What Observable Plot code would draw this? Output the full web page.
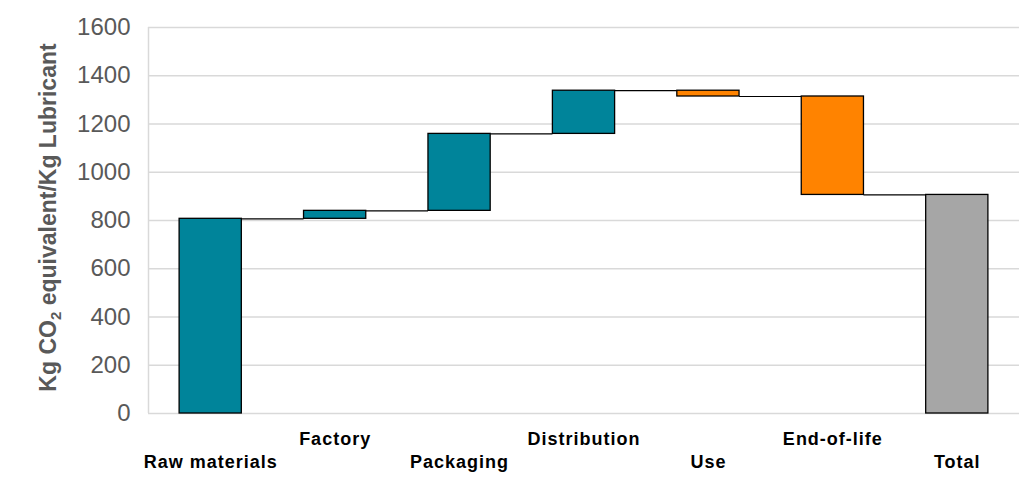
<!DOCTYPE html>
<html>
<head>
<meta charset="utf-8">
<script src="https://cdn.jsdelivr.net/npm/d3@7"></script>
<script src="https://cdn.jsdelivr.net/npm/@observablehq/plot@0.6"></script>
<style>
  html, body { margin: 0; padding: 0; background: #fff; }
  #chart svg { display: block; }
</style>
</head>
<body>
<div id="chart"></div>
<script>
// ---- Data ----
const categories = ["Raw materials", "Factory", "Packaging", "Distribution", "Use", "End-of-life", "Total"];
const values = [807, 33, 319, 179, -24, -408, 906];
const kinds = ["increase", "increase", "increase", "increase", "decrease", "decrease", "total"];
const yTicks = [0, 200, 400, 600, 800, 1000, 1200, 1400, 1600];
const yLabel = "Kg CO\u2082 equivalent/Kg Lubricant";

// ---- Build waterfall rows ----
let running = 0;
const rows = categories.map((c, i) => {
  let y1, y2;
  if (kinds[i] === "total") { y1 = 0; y2 = values[i]; running = values[i]; }
  else { y1 = running; y2 = running + values[i]; running = y2; }
  return { i, category: c, kind: kinds[i], y1, y2, end: y2 };
});
const links = rows.slice(0, -1).map(r => ({ i: r.i, level: r.end }));

const colors = { increase: "#00849A", decrease: "#FF8300", total: "#A6A6A6" };

const plot = Plot.plot({
  width: 1019,
  height: 497,
  marginLeft: 148,
  marginRight: 0,
  marginTop: 27,
  marginBottom: 84,
  style: { fontFamily: "'Liberation Sans', Arial, sans-serif", background: "#fff" },
  x: { type: "linear", domain: [-0.5, 6.5], axis: null },
  y: { domain: [0, 1600], axis: null },
  marks: [
    Plot.gridY(yTicks, { stroke: "#D9D9D9", strokeOpacity: 1, strokeWidth: 1.5 }),
    Plot.ruleX([-0.5], { stroke: "#D9D9D9", strokeWidth: 1.5 }),
    Plot.axisY({ ticks: yTicks, tickFormat: d => String(d), tickSize: 0, tickPadding: 18,
                 fontSize: 24, fill: "#595959", label: null }),
    Plot.axisX({ ticks: [1, 3, 5], tickFormat: i => categories[i], tickSize: 0, tickPadding: 19,
                 fontSize: 18, fontWeight: "bold", fill: "#000", label: null }),
    Plot.axisX({ ticks: [0, 2, 4, 6], tickFormat: i => categories[i], tickSize: 0, tickPadding: 42,
                 fontSize: 18, fontWeight: "bold", fill: "#000", label: null }),
    Plot.ruleY(links, { y: "level", x1: d => d.i + 0.25, x2: d => d.i + 0.75, stroke: "#000", strokeWidth: 1.2 }),
    Plot.rectY(rows, {
      x1: d => d.i - 0.25, x2: d => d.i + 0.25, y1: "y1", y2: "y2",
      fill: d => colors[d.kind], stroke: "#000", strokeWidth: 1.3
    }),
    Plot.text([yLabel], { frameAnchor: "left", dx: -100, dy: -3, rotate: -90, fontSize: 23, fontWeight: "bold",
                          fill: "#595959", textAnchor: "middle", lineAnchor: "middle" })
  ]
});

// letter spacing for the stretched category labels
plot.querySelectorAll("text").forEach(t => {
  if (categories.includes(t.textContent)) t.setAttribute("letter-spacing", "1");
});
// subscript for CO2
plot.querySelectorAll("text").forEach(t => {
  if (t.textContent === yLabel) {
    t.textContent = "";
    const ns = "http://www.w3.org/2000/svg";
    const a = document.createElementNS(ns, "tspan"); a.textContent = "Kg CO";
    const b = document.createElementNS(ns, "tspan"); b.textContent = "2";
    b.setAttribute("font-size", "15"); b.setAttribute("dy", "5");
    const c = document.createElementNS(ns, "tspan"); c.textContent = " equivalent/Kg Lubricant";
    c.setAttribute("dy", "-5");
    t.append(a, b, c);
  }
});

document.getElementById("chart").appendChild(plot);
</script>
</body>
</html>
